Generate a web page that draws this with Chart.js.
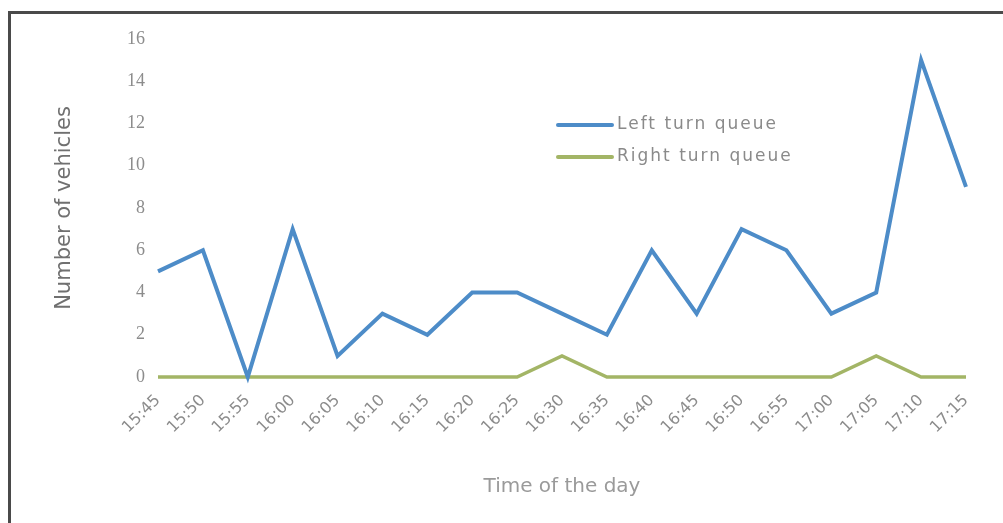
<!DOCTYPE html>
<html>
<head>
<meta charset="utf-8">
<script src="https://cdn.jsdelivr.net/npm/chart.js@4.4.1/dist/chart.umd.min.js"></script>
<style>
  html, body { margin: 0; padding: 0; background: #fff; }
  #wrap { position: relative; width: 1003px; height: 523px; }
  #frame { position: absolute; left: 8px; top: 11px; width: 995px; height: 512px;
           border-left: 3px solid #4a4a4a; border-top: 3px solid #4a4a4a; pointer-events: none; }
</style>
</head>
<body>
<div id="wrap">
  <canvas id="chart" width="1003" height="523"></canvas>
  <div id="frame"></div>
</div>
<script>
// data
const times = ['15:45','15:50','15:55','16:00','16:05','16:10','16:15','16:20','16:25','16:30',
               '16:35','16:40','16:45','16:50','16:55','17:00','17:05','17:10','17:15'];
const leftQueue  = [5, 6, 0, 7, 1, 3, 2, 4, 4, 3, 2, 6, 3, 7, 6, 3, 4, 15, 9];
const rightQueue = [0, 0, 0, 0, 0, 0, 0, 0, 0, 1, 0, 0, 0, 0, 0, 0, 1, 0, 0];
const yTicks = [0, 2, 4, 6, 8, 10, 12, 14, 16];

const BLUE = '#4d8cc8';
const GREEN = '#a3b566';
const SANS = '"DejaVu Sans", "Liberation Sans", sans-serif';

// legend drawn inside plot area, like the original
const innerLegend = {
  id: 'innerLegend',
  afterDraw(chart) {
    const ctx = chart.ctx;
    const x0 = 558, rows = [125, 157];
    ctx.save();
    ctx.font = '17px ' + SANS;
    if ('letterSpacing' in ctx) ctx.letterSpacing = '2px';
    ctx.textBaseline = 'middle';
    chart.data.datasets.forEach((ds, i) => {
      const y = rows[i];
      ctx.strokeStyle = ds.borderColor;
      ctx.lineWidth = 4;
      ctx.lineCap = 'round';
      ctx.beginPath();
      ctx.moveTo(x0, y);
      ctx.lineTo(x0 + 54, y);
      ctx.stroke();
      ctx.fillStyle = '#8a8a8a';
      ctx.fillText(ds.label, x0 + 59, y);
    });
    ctx.restore();
  }
};

const ctx = document.getElementById('chart').getContext('2d');
new Chart(ctx, {
  type: 'line',
  data: {
    labels: times,
    datasets: [
      {
        label: 'Left turn queue',
        data: leftQueue,
        borderColor: BLUE,
        borderWidth: 4,
        pointRadius: 0,
        tension: 0,
        clip: false
      },
      {
        label: 'Right turn queue',
        data: rightQueue,
        borderColor: GREEN,
        borderWidth: 3.5,
        pointRadius: 0,
        tension: 0,
        clip: false
      }
    ]
  },
  options: {
    responsive: false,
    animation: false,
    layout: { padding: { left: 52, right: 37, top: 39, bottom: 0 } },
    scales: {
      x: {
        offset: false,
        grid: { display: false, drawTicks: false },
        border: { display: false },
        ticks: {
          color: '#8c8c8c',
          font: { family: SANS, size: 16 },
          maxRotation: 45,
          minRotation: 45,
          autoSkip: false,
          padding: 14
        },
        title: {
          display: true,
          text: 'Time of the day',
          color: '#9a9a9a',
          font: { family: SANS, size: 20 },
          padding: { top: 4, bottom: 24 }
        },
        afterFit: s => { s.height = 146; }
      },
      y: {
        min: 0,
        max: 16,
        grid: { display: false, drawTicks: false },
        border: { display: false },
        afterBuildTicks: s => { s.ticks = yTicks.map(v => ({ value: v })); },
        ticks: {
          color: '#8c8c8c',
          font: { family: '"Liberation Serif", "Times New Roman", serif', size: 18 },
          padding: 13
        },
        title: {
          display: true,
          text: 'Number of vehicles',
          color: '#707070',
          font: { family: SANS, size: 21 },
          padding: 0
        },
        afterFit: s => { s.width = 106; }
      }
    },
    plugins: {
      legend: { display: false },
      tooltip: { enabled: false }
    }
  },
  plugins: [innerLegend]
});
</script>
</body>
</html>
